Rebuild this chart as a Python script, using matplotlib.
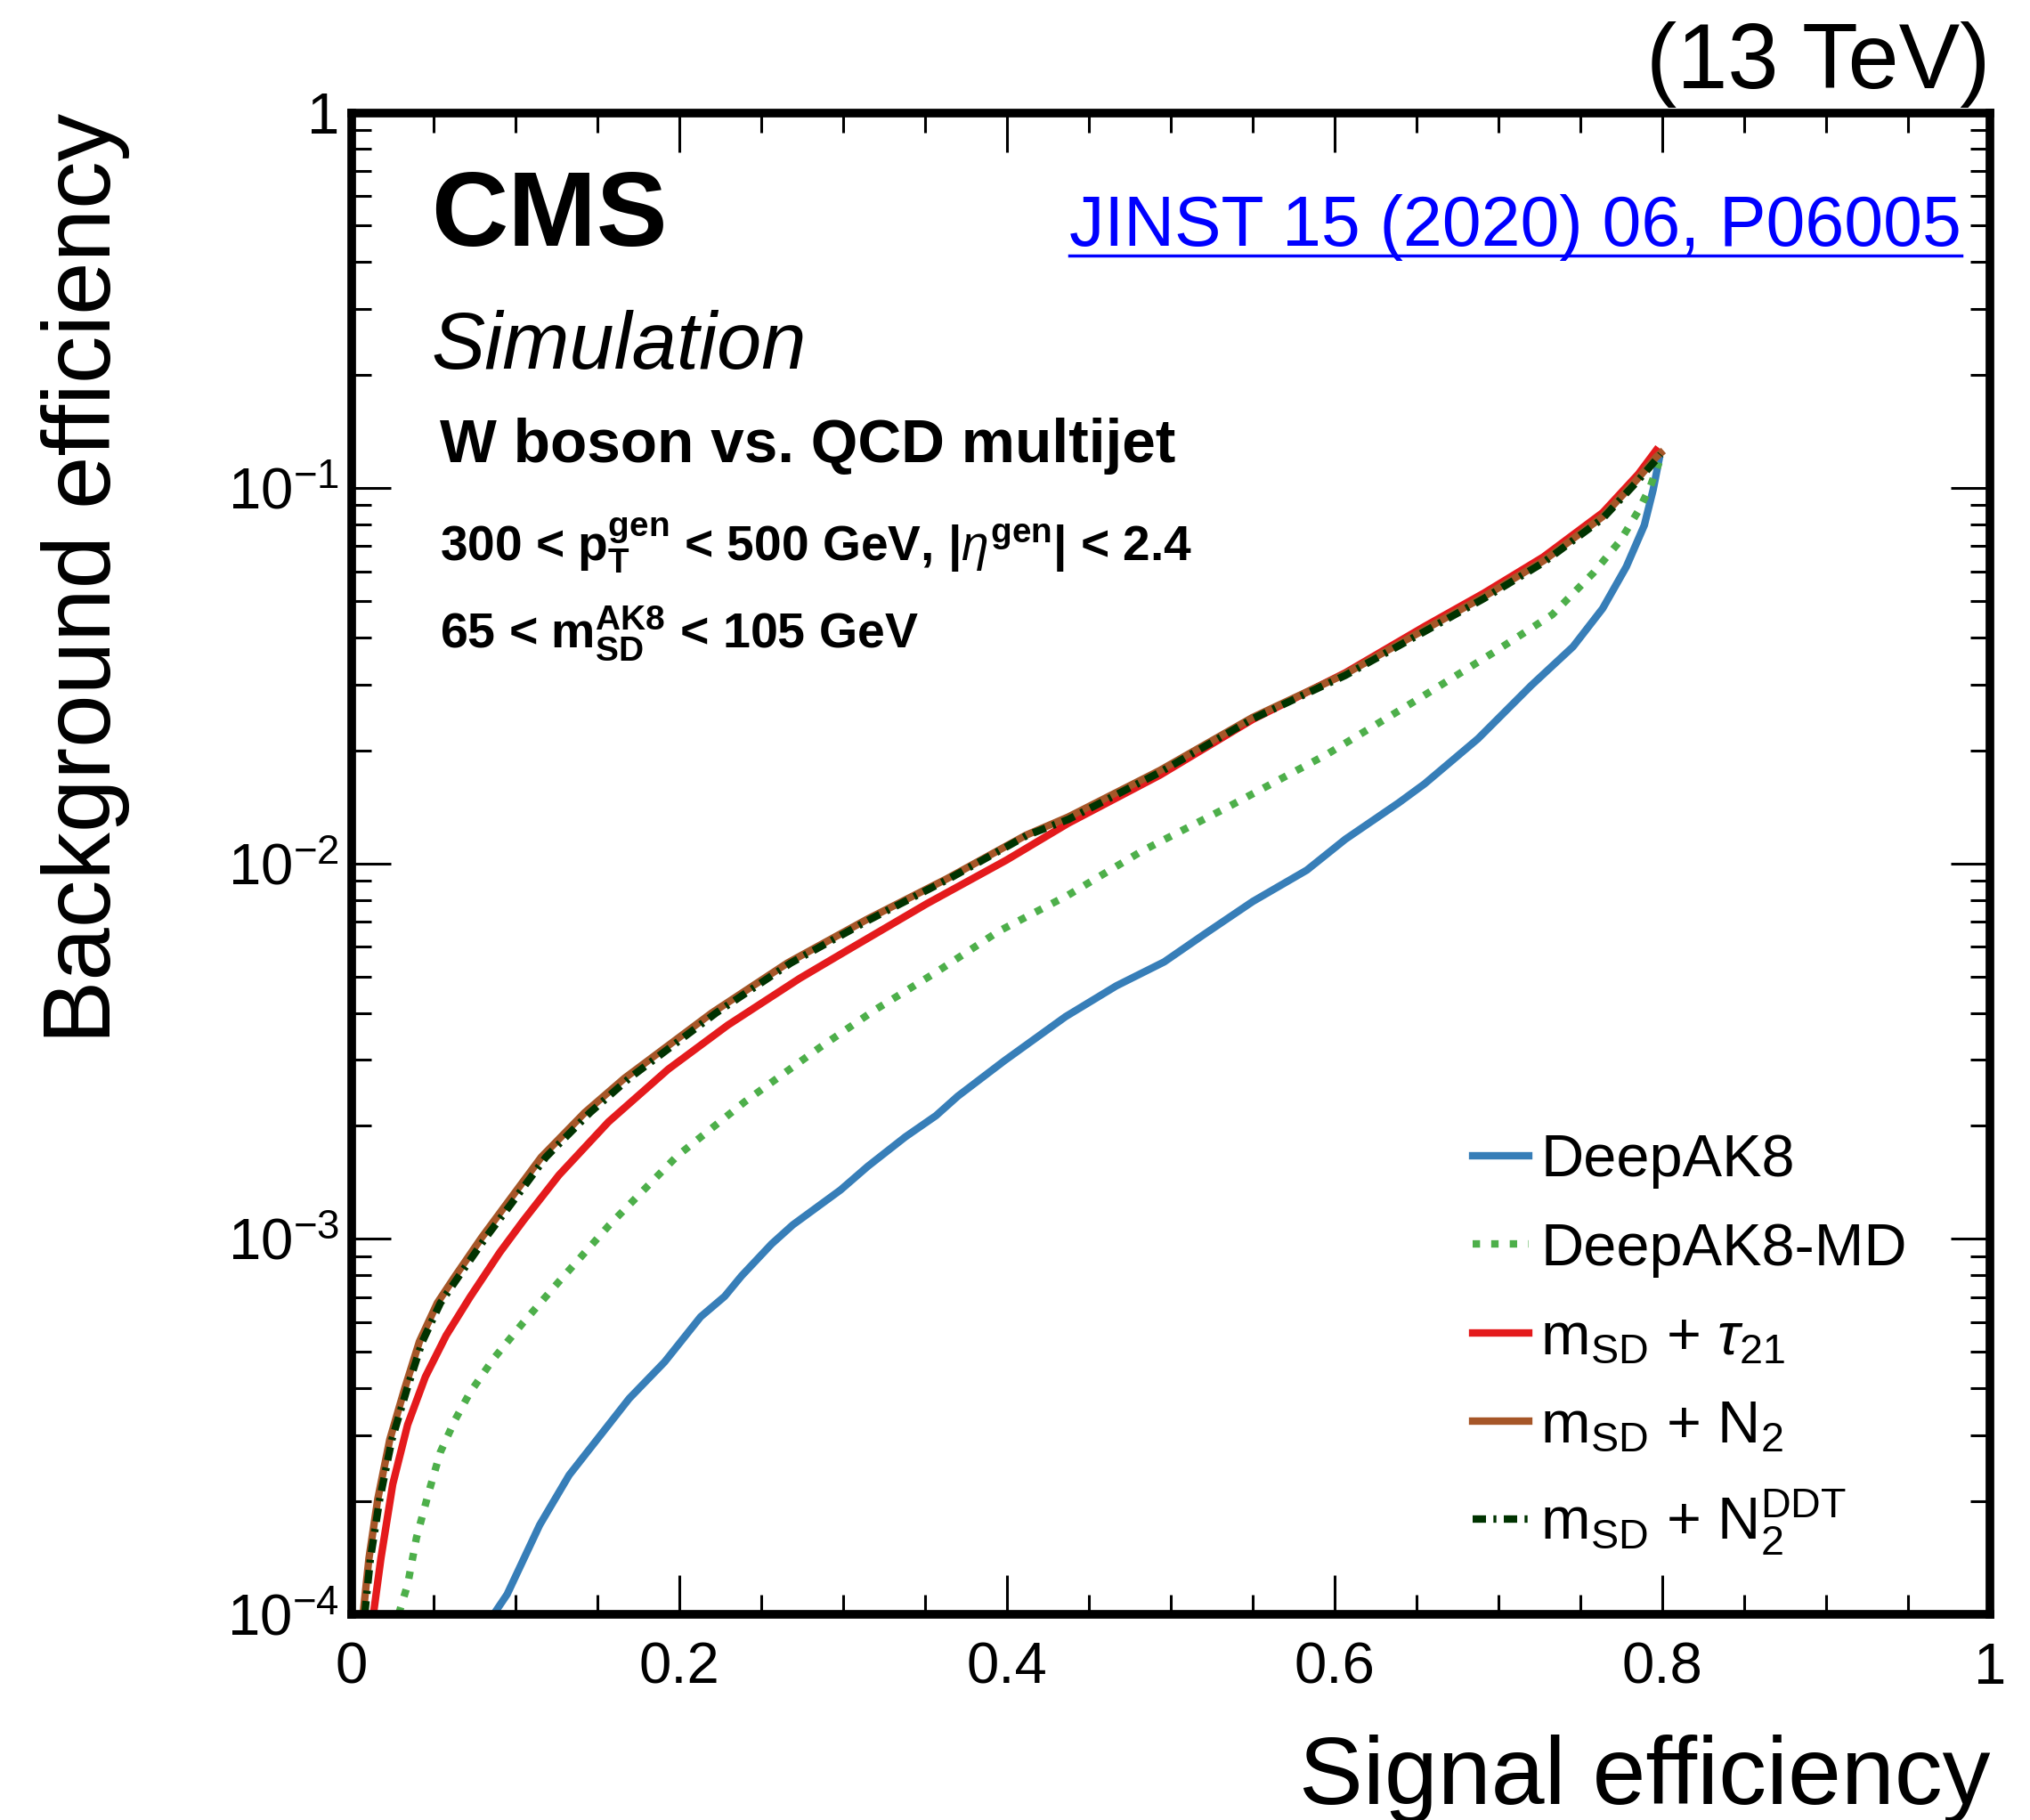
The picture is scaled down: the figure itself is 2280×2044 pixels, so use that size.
import math
import matplotlib
matplotlib.use("Agg")
import matplotlib.pyplot as plt
from matplotlib.ticker import MultipleLocator, LogLocator, FuncFormatter, NullFormatter
from matplotlib.lines import Line2D

plt.rcParams['font.family'] = ['Liberation Sans', 'DejaVu Sans']
plt.rcParams['mathtext.fontset'] = 'custom'
plt.rcParams['mathtext.rm'] = 'Liberation Sans'
plt.rcParams['mathtext.it'] = 'Liberation Sans:italic'
plt.rcParams['mathtext.bf'] = 'Liberation Sans:bold'

# ----------------------------
# Data (signal eff, background eff)
# ----------------------------
deepak8_x = [0.0867, 0.0949, 0.1148, 0.1328, 0.1695, 0.191, 0.213, 0.2277, 0.238, 0.2564,
             0.2693, 0.2984, 0.315, 0.338, 0.3567, 0.37, 0.3983, 0.4358, 0.4667, 0.496,
             0.52, 0.55, 0.583, 0.6065, 0.639, 0.6549, 0.6875, 0.720, 0.7455, 0.7636,
             0.778, 0.789, 0.7944, 0.798]
deepak8_y = [1.0e-4, 1.13e-4, 1.73e-4, 2.35e-4, 3.76e-4, 4.7e-4, 6.2e-4, 7.03e-4, 7.97e-4, 9.7e-4,
             1.09e-3, 1.35e-3, 1.56e-3, 1.87e-3, 2.13e-3, 2.4e-3, 2.98e-3, 3.91e-3, 4.72e-3, 5.47e-3,
             6.46e-3, 7.92e-3, 9.6e-3, 1.16e-2, 1.45e-2, 1.63e-2, 2.15e-2, 2.98e-2, 3.78e-2, 4.78e-2,
             6.17e-2, 7.96e-2, 9.9e-2, 0.119]

md_x = [0.0287, 0.0342, 0.0396, 0.0469, 0.0541, 0.0632, 0.0723, 0.0867, 0.1049, 0.1266,
        0.1574, 0.1985, 0.240, 0.286, 0.3193, 0.3567, 0.395, 0.4374, 0.4825, 0.5343,
        0.595, 0.6515, 0.6966, 0.7328, 0.758, 0.7745, 0.7854, 0.7926, 0.798]
md_y = [1.0e-4, 1.2e-4, 1.6e-4, 2.1e-4, 2.7e-4, 3.3e-4, 3.9e-4, 4.8e-4, 6.0e-4, 7.7e-4,
        1.09e-3, 1.66e-3, 2.32e-3, 3.24e-3, 4.07e-3, 5.13e-3, 6.6e-3, 8.24e-3, 1.08e-2, 1.41e-2,
        1.95e-2, 2.75e-2, 3.64e-2, 4.6e-2, 5.95e-2, 7.26e-2, 8.7e-2, 0.1008, 0.117]

tau21_x = [0.0133, 0.0179, 0.0251, 0.0342, 0.045, 0.0577, 0.0723, 0.0904, 0.1049, 0.1266,
           0.1568, 0.1932, 0.2296, 0.2734, 0.3025, 0.351, 0.3995, 0.4374, 0.4934, 0.55,
           0.6065, 0.6549, 0.6911, 0.7273, 0.7636, 0.7854, 0.7962]
tau21_y = [1.0e-4, 1.41e-4, 2.22e-4, 3.2e-4, 4.29e-4, 5.53e-4, 7.0e-4, 9.2e-4, 1.12e-3, 1.48e-3,
           2.05e-3, 2.83e-3, 3.71e-3, 4.94e-3, 5.87e-3, 7.81e-3, 1.02e-2, 1.28e-2, 1.72e-2, 2.42e-2,
           3.22e-2, 4.28e-2, 5.25e-2, 6.55e-2, 8.6e-2, 0.109, 0.126]

n2_x = [0.007, 0.0106, 0.016, 0.0233, 0.0323, 0.0414, 0.0523, 0.0632, 0.0795, 0.094,
        0.1157, 0.1423, 0.1666, 0.2199, 0.266, 0.3146, 0.3632, 0.4117, 0.4374, 0.4934,
        0.55, 0.6065, 0.6549, 0.6911, 0.7273, 0.7636, 0.7854, 0.7962, 0.799]
n2_y = [1.0e-4, 1.41e-4, 2.03e-4, 2.92e-4, 3.98e-4, 5.33e-4, 6.75e-4, 7.96e-4, 1.01e-3, 1.23e-3,
        1.65e-3, 2.17e-3, 2.68e-3, 4.0e-3, 5.43e-3, 7.1e-3, 9.1e-3, 1.19e-2, 1.33e-2, 1.77e-2,
        2.45e-2, 3.2e-2, 4.2e-2, 5.14e-2, 6.4e-2, 8.4e-2, 0.1065, 0.121, 0.124]

ddt_x = [0.008, 0.0115, 0.0172, 0.0246, 0.0338, 0.0432, 0.0542, 0.0655, 0.082, 0.0968,
         0.1185, 0.1455, 0.1695, 0.2225, 0.268, 0.3165, 0.3645, 0.4125, 0.4374, 0.4934,
         0.55, 0.6065, 0.6549, 0.6911, 0.7273, 0.7636, 0.7854, 0.7962, 0.799]
ddt_y = [1.0e-4, 1.41e-4, 2.03e-4, 2.92e-4, 3.98e-4, 5.33e-4, 6.75e-4, 7.96e-4, 1.01e-3, 1.23e-3,
         1.65e-3, 2.17e-3, 2.68e-3, 4.0e-3, 5.43e-3, 7.1e-3, 9.1e-3, 1.19e-2, 1.31e-2, 1.75e-2,
         2.43e-2, 3.17e-2, 4.15e-2, 5.08e-2, 6.33e-2, 8.3e-2, 0.105, 0.119, 0.123]

labels = ['DeepAK8', 'DeepAK8-MD',
          r'$\mathrm{m}_{\mathrm{SD}}$ + $\tau_{21}$',
          r'$\mathrm{m}_{\mathrm{SD}}$ + N$_{2}$',
          r'$\mathrm{m}_{\mathrm{SD}}$ + N$_{2}^{\mathrm{DDT}}$']
colors = ['#377eb8', '#4daf4a', '#e41a1c', '#a65628', '#003300']

# ----------------------------
# Figure
# ----------------------------
fig = plt.figure(figsize=(22.8, 20.44), dpi=100)
ax = fig.add_axes([0.1732, 0.113, 0.8071, 0.8251])

lw = 6
ax.plot(deepak8_x, deepak8_y, color=colors[0], lw=lw, label=labels[0])
ax.plot(md_x, md_y, color=colors[1], lw=lw, ls=(0, (1.0, 1.5)), label=labels[1])
ax.plot(tau21_x, tau21_y, color=colors[2], lw=lw, label=labels[2])
ax.plot(n2_x, n2_y, color=colors[3], lw=lw, label=labels[3])
ax.plot(ddt_x, ddt_y, color=colors[4], lw=lw, ls=(0, (1.8, 1.0, 0.4, 1.0)), label=labels[4])

ax.set_xlim(0, 1)
ax.set_yscale('log')
ax.set_ylim(1e-4, 1)

# axes frame / ticks in ROOT style
for s in ax.spines.values():
    s.set_linewidth(7)
ax.xaxis.set_major_locator(MultipleLocator(0.2))
ax.xaxis.set_minor_locator(MultipleLocator(0.05))
ax.yaxis.set_major_locator(LogLocator(base=10, numticks=10))
ax.yaxis.set_minor_locator(LogLocator(base=10, subs=range(2, 10), numticks=20))
ax.yaxis.set_minor_formatter(NullFormatter())
ax.tick_params(which='both', direction='in', top=True, right=True, width=2.2)
ax.tick_params(which='major', length=32)
ax.tick_params(which='minor', length=16)
ax.tick_params(axis='x', which='major', labelsize=47, pad=22)
ax.tick_params(axis='y', which='major', labelsize=47, pad=10)


def xfmt(v, pos):
    return '%g' % v


def yfmt(v, pos):
    if abs(v - 1) < 1e-9:
        return '1'
    return r'$10^{%d}$' % round(math.log10(v))


ax.xaxis.set_major_formatter(FuncFormatter(xfmt))
ax.yaxis.set_major_formatter(FuncFormatter(yfmt))

# axis titles
fig.text(0.9803, 0.009, 'Signal efficiency', ha='right', va='baseline', fontsize=77.5)
fig.text(0.042, 0.938, 'Background efficiency', ha='center', va='top',
         rotation=90, fontsize=77)
fig.text(0.9803, 0.9516, '(13 TeV)', ha='right', va='baseline', fontsize=74)

# CMS labels
ax.text(0.0484, 0.9114, 'CMS', transform=ax.transAxes, fontsize=86,
        fontweight='bold', va='baseline')
ax.text(0.0484, 0.8295, 'Simulation', transform=ax.transAxes, fontsize=65,
        style='italic', va='baseline')
ax.text(0.0538, 0.7673, 'W boson vs. QCD multijet', transform=ax.transAxes,
        fontsize=48.7, fontweight='bold', va='baseline')
ax.text(0.0538, 0.7017,
        r'300 < $\mathbf{p}_{\mathbf{T}}^{\mathbf{gen}}$ < 500 GeV, |$\eta^{\mathbf{gen}}$| < 2.4',
        transform=ax.transAxes, fontsize=39.7, fontweight='bold', va='baseline')
ax.text(0.0538, 0.6439,
        r'65 < $\mathbf{m}_{\mathbf{SD}}^{\mathbf{AK8}}$ < 105 GeV',
        transform=ax.transAxes, fontsize=40, fontweight='bold', va='baseline')
jinst = ax.text(0.9826, 0.9114, 'JINST 15 (2020) 06, P06005', transform=ax.transAxes,
                fontsize=56.7, color='#0000ff', ha='right', va='baseline')

# legend
leg = ax.legend(loc='upper left', bbox_to_anchor=(0.684, 0.32), frameon=False,
                fontsize=48, handlelength=0.95, handletextpad=0.2,
                labelspacing=0.56, borderpad=0, borderaxespad=0)

# underline for the link
fig.canvas.draw()
bb = jinst.get_window_extent().transformed(ax.transAxes.inverted())
ax.add_line(Line2D([bb.x0, bb.x1], [0.905, 0.905], transform=ax.transAxes,
                   color='#0000ff', lw=2.5, clip_on=False))

fig.savefig('out.png', dpi=100)
